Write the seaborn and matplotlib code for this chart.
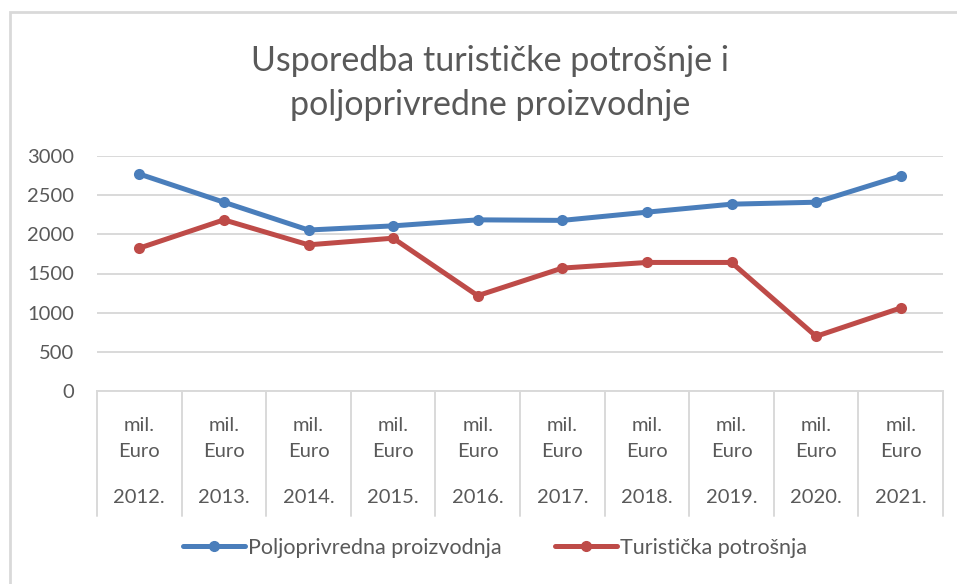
import matplotlib
matplotlib.use("Agg")
import matplotlib.pyplot as plt
import matplotlib.patches as patches
import pandas as pd
import seaborn as sns

# --- Data ---
years = ["2012.", "2013.", "2014.", "2015.", "2016.", "2017.", "2018.", "2019.", "2020.", "2021."]
unit_label = "mil.\nEuro"
poljoprivreda = [2770, 2410, 2055, 2108, 2185, 2178, 2283, 2385, 2410, 2745]
turizam = [1824, 2185, 1866, 1951, 1217, 1569, 1641, 1641, 698, 1060]
series_names = ["Poljoprivredna proizvodnja", "Turistička potrošnja"]
y_ticks = [0, 500, 1000, 1500, 2000, 2500, 3000]

title = "Usporedba turističke potrošnje i\npoljoprivredne proizvodnje"

TEXT = "#595959"
GRID = "#d9d9d9"
colors = ["#4a7ebb", "#be4b48"]

df = pd.DataFrame({
    "pos": list(range(len(years))) * 2,
    "value": poljoprivreda + turizam,
    "series": [series_names[0]] * len(years) + [series_names[1]] * len(years),
})

sns.set_theme(style="white")
plt.rcParams["font.family"] = ["Lato", "DejaVu Sans"]

fig = plt.figure(figsize=(9.57, 5.84), dpi=100)
ax = fig.add_axes([97 / 957, 1 - 391 / 584, (943 - 97) / 957, (391 - 156) / 584])

sns.lineplot(data=df, x="pos", y="value", hue="series", palette=colors,
             marker="o", markersize=8, markeredgewidth=0, linewidth=3.6,
             ax=ax, legend=False)

ax.set_xlim(-0.5, len(years) - 0.5)
ax.set_ylim(0, 3000)
ax.set_yticks(y_ticks)
ax.set_yticklabels([str(v) for v in y_ticks], fontsize=14.5, color=TEXT)
ax.tick_params(axis="y", length=0, pad=16.5)
ax.grid(axis="y", color=GRID, linewidth=1.4)
ax.set_axisbelow(True)
for s in ["top", "right", "left"]:
    ax.spines[s].set_visible(False)
ax.spines["bottom"].set_color(GRID)
ax.spines["bottom"].set_linewidth(1.4)
ax.set_xlabel("")
ax.set_ylabel("")

# multi-level category axis
ax.set_xticks(range(len(years)))
ax.set_xticklabels([unit_label] * len(years), fontsize=14.5, color=TEXT, linespacing=1.65)
ax.tick_params(axis="x", length=0, pad=19)
trans = ax.get_xaxis_transform()
for i, yr in enumerate(years):
    ax.text(i, -0.455, yr, transform=trans, ha="center", va="center",
            fontsize=14.5, color=TEXT)
for b in range(len(years) + 1):
    ax.plot([b - 0.5, b - 0.5], [0, -0.53], transform=trans, color=GRID,
            linewidth=1.4, clip_on=False)

fig.text(0.512, 1 - 83 / 584, title, ha="center", va="center", fontsize=24.5,
         color=TEXT, linespacing=1.45)

handles = [plt.Line2D([0], [0], color=c, linewidth=3.6, marker="o", markersize=7)
           for c in colors]
fig.legend(handles, series_names, loc="center", bbox_to_anchor=(0.517, 1 - 548 / 584),
           ncol=2, frameon=False, fontsize=15.5, labelcolor=TEXT,
           handlelength=2.9, handletextpad=0.1, columnspacing=2.5)

border = patches.Rectangle((10 / 957, -0.1), 1.0, 1 - 12 / 584 + 0.1,
                           transform=fig.transFigure, fill=False,
                           edgecolor="#d9d9d9", linewidth=2)
fig.add_artist(border)

fig.savefig("out.png", dpi=100)
